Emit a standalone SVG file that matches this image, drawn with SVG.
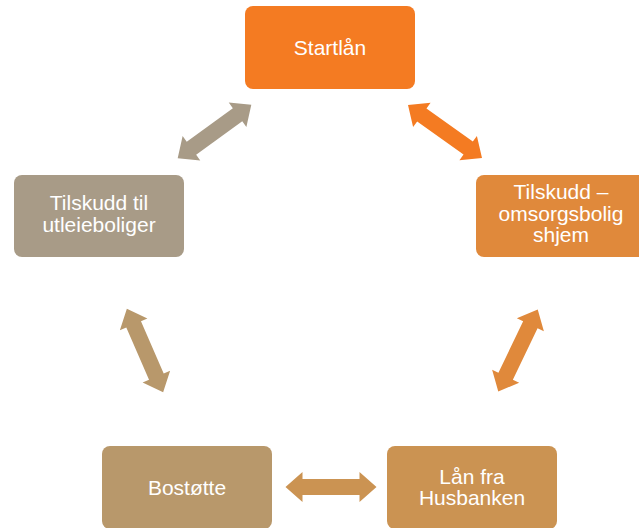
<svg xmlns="http://www.w3.org/2000/svg" width="639" height="528" viewBox="0 0 639 528">
<style>
.n text{font-family:"Liberation Sans",Arial,sans-serif;font-size:21px;fill:#fff;text-anchor:middle}
</style>
<defs>
<polygon id="dbl" points="-45.5,0 -28.5,-15 -28.5,-8 28.5,-8 28.5,-15 45.5,0 28.5,15 28.5,8 -28.5,8 -28.5,15"/>
</defs>
<rect width="639" height="528" fill="#fff"/>
<g id="connectors">
<use href="#dbl" fill="#A89B87" transform="translate(214.5,131.5) rotate(-36)"/>
<use href="#dbl" fill="#F47B22" transform="translate(445,131.5) rotate(35.6)"/>
<use href="#dbl" fill="#B8986B" transform="translate(145,350.5) rotate(66.5)"/>
<use href="#dbl" fill="#E0893B" transform="translate(518,350.5) rotate(115.7)"/>
<use href="#dbl" fill="#CB9352" transform="translate(331,487)"/>
</g>
<g id="startlan" class="n">
<rect x="245" y="6" width="170" height="83" rx="8" fill="#F47B22"/>
<text x="330" y="55">Startlån</text>
</g>
<g id="tilskudd-omsorg" class="n">
<rect x="476" y="175" width="170" height="82" rx="8" fill="#E0893B"/>
<text x="561" y="199">Tilskudd –</text>
<text x="561" y="221">omsorgsbolig</text>
<text x="561" y="242">shjem</text>
</g>
<g id="lan-husbanken" class="n">
<rect x="387" y="446" width="170" height="83" rx="8" fill="#CB9352"/>
<text x="472" y="484">Lån fra</text>
<text x="472" y="505">Husbanken</text>
</g>
<g id="bostotte" class="n">
<rect x="102" y="446" width="170" height="83" rx="8" fill="#B8986B"/>
<text x="187" y="495">Bostøtte</text>
</g>
<g id="tilskudd-utleie" class="n">
<rect x="14" y="175" width="170" height="82" rx="8" fill="#A89B87"/>
<text x="99" y="210">Tilskudd til</text>
<text x="99" y="232">utleieboliger</text>
</g>
</svg>
